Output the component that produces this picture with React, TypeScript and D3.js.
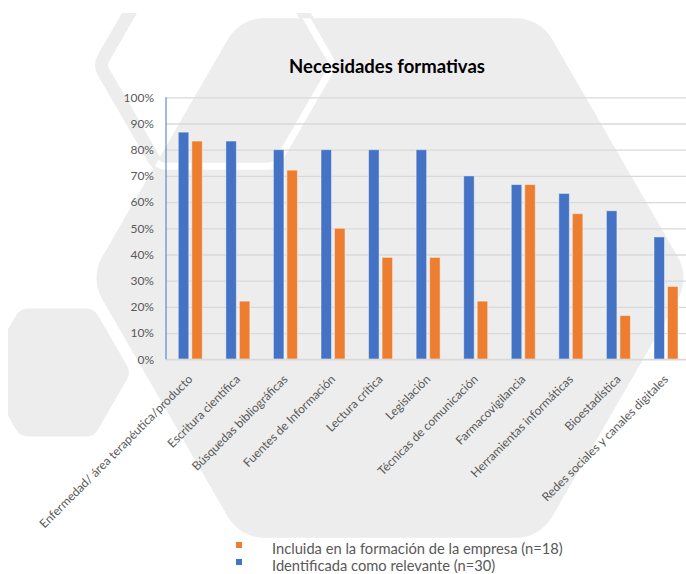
import { useEffect, useRef } from "react";
import * as d3 from "d3";

const categories = [
  "Enfermedad/ área terapéutica/producto",
  "Escritura científica",
  "Búsquedas bibliográficas",
  "Fuentes de Información",
  "Lectura crítica",
  "Legislación",
  "Técnicas de comunicación",
  "Farmacovigilancia",
  "Herramientas informáticas",
  "Bioestadística",
  "Redes sociales y canales digitales",
];

// Identificada como relevante (n=30)
const relevante = [0.867, 0.833, 0.8, 0.8, 0.8, 0.8, 0.7, 0.667, 0.633, 0.567, 0.467];
// Incluida en la formación de la empresa (n=18)
const incluida = [0.833, 0.222, 0.722, 0.5, 0.389, 0.389, 0.222, 0.667, 0.556, 0.167, 0.278];

const seriesKeys = ["relevante", "incluida"];
const seriesColors: Record<string, string> = { relevante: "#4472C4", incluida: "#ED7D31" };
const legendItems = [
  { key: "incluida", label: "Incluida en la formación de la empresa (n=18)" },
  { key: "relevante", label: "Identificada como relevante (n=30)" },
];
const yTicks = [0, 0.1, 0.2, 0.3, 0.4, 0.5, 0.6, 0.7, 0.8, 0.9, 1];

const W = 686;
const H = 574;
const FONT = "Lato, 'Open Sans', sans-serif";
const BG = "#EDEDED";

// flat-top hexagon with rounded corners
function hexPath(cx: number, cy: number, R: number, r: number) {
  const pts = d3.range(6).map((i) => [
    cx + R * Math.cos((i * Math.PI) / 3),
    cy + R * Math.sin((i * Math.PI) / 3),
  ]);
  const p = d3.path();
  const m0 = [(pts[5][0] + pts[0][0]) / 2, (pts[5][1] + pts[0][1]) / 2];
  p.moveTo(m0[0], m0[1]);
  for (let i = 0; i < 6; i++) {
    const a = pts[i];
    const b = pts[(i + 1) % 6];
    p.arcTo(a[0], a[1], b[0], b[1], r);
  }
  p.closePath();
  return p.toString();
}

export default function App() {
  const svgRef = useRef<SVGSVGElement>(null);

  useEffect(() => {
    document.body.style.margin = "0";
    const svg = d3.select(svgRef.current!);
    svg.selectAll("*").remove();

    const defs = svg.append("defs");
    defs
      .append("clipPath")
      .attr("id", "bgclip")
      .append("rect")
      .attr("x", 8)
      .attr("y", 13)
      .attr("width", W - 8)
      .attr("height", H - 13);

    const bigHex = hexPath(390, 278, 300, 42);
    defs.append("clipPath").attr("id", "bigclip").append("path").attr("d", bigHex);

    // Layer 1: decorative hexagons
    const bg = svg.append("g").attr("clip-path", "url(#bgclip)");
    const ring = hexPath(216.5, 65, 117, 14);
    bg.append("path").attr("d", ring).attr("fill", "none").attr("stroke", BG).attr("stroke-width", 13);
    bg.append("path").attr("d", bigHex).attr("fill", BG);
    bg.append("g")
      .attr("clip-path", "url(#bigclip)")
      .append("path")
      .attr("d", ring)
      .attr("fill", "none")
      .attr("stroke", "#fff")
      .attr("stroke-width", 7);
    bg.append("path").attr("d", hexPath(57, 372.5, 74, 14)).attr("fill", BG);

    // Scales
    const left = 166;
    const step = 47.57;
    const x0 = d3
      .scaleBand<string>()
      .domain(categories)
      .range([left, left + step * categories.length]);
    const half = x0.bandwidth() / 2;
    const x1 = d3
      .scaleBand<string>()
      .domain(seriesKeys)
      .range([half - 11.5, half + 12.5])
      .paddingInner(0.222);
    const y = d3.scaleLinear().domain([0, 1]).range([359.3, 97.3]);

    // Gridlines
    svg
      .append("g")
      .attr("transform", `translate(${left},0)`)
      .call(
        d3
          .axisLeft(y)
          .tickValues(yTicks)
          .tickSize(-(W - left))
          .tickFormat(() => "")
      )
      .call((g) => g.select(".domain").remove())
      .call((g) => g.selectAll("line").attr("stroke", "#D9D9D9").attr("stroke-width", 1.3));

    // Y labels
    svg
      .append("g")
      .attr("transform", `translate(${left},0)`)
      .call(d3.axisLeft(y).tickValues(yTicks).tickSize(0).tickPadding(12).tickFormat(d3.format(".0%")))
      .call((g) => g.select(".domain").remove())
      .call((g) =>
        g
          .selectAll("text")
          .attr("fill", "#595959")
          .attr("font-family", FONT)
          .attr("font-size", 12)
      );

    // Bars
    const rows = categories.map((c, i) => ({ c, relevante: relevante[i], incluida: incluida[i] }));
    svg
      .append("g")
      .selectAll("g")
      .data(rows)
      .join("g")
      .attr("transform", (d) => `translate(${x0(d.c)},0)`)
      .selectAll("rect")
      .data((d) => seriesKeys.map((k) => ({ k, v: (d as any)[k] as number })))
      .join("rect")
      .attr("x", (d) => x1(d.k)!)
      .attr("width", x1.bandwidth())
      .attr("y", (d) => y(d.v))
      .attr("height", (d) => y(0) - y(d.v))
      .attr("fill", (d) => seriesColors[d.k])
      .attr("stroke", "rgba(255,255,255,0.45)")
      .attr("stroke-width", 1);

    // Axis lines
    svg
      .append("line")
      .attr("x1", left)
      .attr("x2", W)
      .attr("y1", y(0))
      .attr("y2", y(0))
      .attr("stroke", "#D9D9D9")
      .attr("stroke-width", 1.3);
    svg
      .append("line")
      .attr("x1", left)
      .attr("x2", left)
      .attr("y1", y(0))
      .attr("y2", y(1))
      .attr("stroke", "#4472C4")
      .attr("stroke-width", 1);

    // X labels
    svg
      .append("g")
      .selectAll("text")
      .data(categories)
      .join("text")
      .attr("transform", (d) => `translate(${x0(d)! + half + 3.5},380) rotate(-45)`)
      .attr("text-anchor", "end")
      .attr("fill", "#595959")
      .attr("font-family", FONT)
      .attr("font-size", 12)
      .text((d) => d);

    // Title
    svg
      .append("text")
      .attr("x", 387)
      .attr("y", 73)
      .attr("text-anchor", "middle")
      .attr("font-family", FONT)
      .attr("font-weight", 700)
      .attr("font-size", 18.5)
      .attr("fill", "#000")
      .text("Necesidades formativas");

    // Legend
    const lg = svg
      .append("g")
      .selectAll("g")
      .data(legendItems)
      .join("g")
      .attr("transform", (_d, i) => `translate(236,${542 + i * 17})`);
    lg.append("rect").attr("width", 6).attr("height", 6).attr("fill", (d) => seriesColors[d.key]);
    lg.append("text")
      .attr("x", 36)
      .attr("y", 12)
      .attr("fill", "#595959")
      .attr("font-family", FONT)
      .attr("font-size", 14.7)
      .text((d) => d.label);

    return () => {
      svg.selectAll("*").remove();
    };
  }, []);

  return <svg ref={svgRef} width={W} height={H} style={{ display: "block" }} />;
}
